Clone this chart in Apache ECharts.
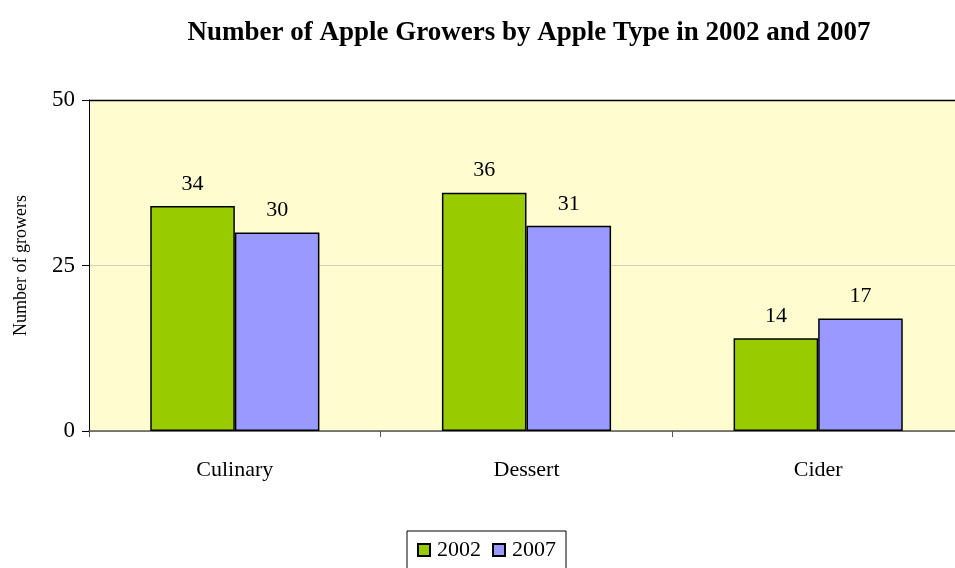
<!DOCTYPE html>
<html><head><meta charset="utf-8">
<script src="https://cdn.jsdelivr.net/npm/echarts@6/dist/echarts.min.js"></script>
<style>html,body{margin:0;padding:0;background:#fff}#c{width:955px;height:568px}</style>
</head><body><div id="c"></div>
<script>
const categories = ['Culinary', 'Dessert', 'Cider'];
const values2002 = [34, 36, 14];
const values2007 = [30, 31, 17];
const yTicks = [0, 25, 50];
const seriesNames = ['2002', '2007'];

const FONT = '"Liberation Serif", "Times New Roman", serif';
const chart = echarts.init(document.getElementById('c'), null, {renderer: 'canvas'});
const labelStyle = {show: true, position: 'top', distance: 11, fontFamily: FONT, fontSize: 22, color: '#000'};
chart.setOption({
  animation: false,
  title: {
    text: 'Number of Apple Growers by Apple Type in 2002 and 2007',
    left: 524, top: 15, textAlign: 'center',
    textStyle: {fontFamily: FONT, fontSize: 27, fontWeight: 'bold', color: '#000'}
  },
  legend: {
    data: seriesNames, top: 531, left: 407,
    icon: 'rect',
    itemWidth: 12, itemHeight: 12, itemGap: 11,
    borderColor: '#000', borderWidth: 1, padding: [8, 10, 12, 10],
    textStyle: {fontFamily: FONT, fontSize: 22, color: '#000', padding: [0, 0, 0, 2]}
  },
  grid: {left: 89, top: 100, bottom: 137, right: -9, outerBoundsMode: 'none', containLabel: false,
         show: true, backgroundColor: '#FFFDD0', borderWidth: 0},
  xAxis: {
    type: 'category', data: categories,
    axisLine: {lineStyle: {color: '#555', width: 1.5}},
    axisTick: {show: true, length: 6, lineStyle: {color: '#555'}},
    axisLabel: {fontFamily: FONT, fontSize: 22, color: '#000', margin: 28}
  },
  yAxis: {
    type: 'value', min: 0, max: 50, interval: 25,
    name: 'Number of growers', nameLocation: 'middle', nameGap: 59, nameRotate: 90,
    nameTextStyle: {fontFamily: FONT, fontSize: 18, color: '#000'},
    axisLine: {show: true, lineStyle: {color: '#000'}},
    axisTick: {show: true, length: 7, lineStyle: {color: '#000'}},
    axisLabel: {fontFamily: FONT, fontSize: 23, color: '#000', margin: 14,
      formatter: v => yTicks.includes(v) ? String(v) : ''},
    splitLine: {show: true, lineStyle: {color: '#cfcfc0', width: 1}}
  },
  graphic: [{type: 'line', shape: {x1: 89, y1: 100.5, x2: 955, y2: 100.5}, style: {stroke: '#000', lineWidth: 1.5}, z: 10}],
  series: [
    {name: seriesNames[0], type: 'bar', data: values2002, barGap: '0%', barCategoryGap: '42%',
     itemStyle: {color: '#99CC00', borderColor: '#000', borderWidth: 1.5}, label: labelStyle},
    {name: seriesNames[1], type: 'bar', data: values2007,
     itemStyle: {color: '#9999FF', borderColor: '#000', borderWidth: 1.5}, label: labelStyle}
  ]
});
</script></body></html>
